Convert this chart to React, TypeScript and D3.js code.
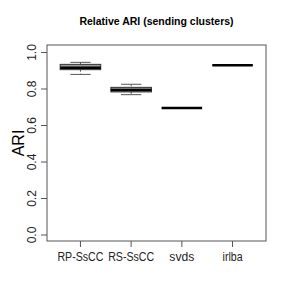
import React from "react";
import * as d3 from "d3";

const categories = ["RP-SsCC", "RS-SsCC", "svds", "irlba"];
const whiskerLow = [0.88, 0.769, 0.696, 0.93];
const q1 = [0.906, 0.784, 0.696, 0.93];
const medians = [0.917, 0.795, 0.696, 0.93];
const q3 = [0.935, 0.809, 0.696, 0.93];
const whiskerHigh = [0.946, 0.826, 0.696, 0.93];
const yTicks = [0, 0.2, 0.4, 0.6, 0.8, 1.0];
const labelWidths = [46, 46, 25, 20];

const W = 289, H = 300;
const L = 47, R = 266, T = 45, B = 241;

export default function App() {
  const x = d3.scaleLinear().domain([0.34, 4.66]).range([L, R]);
  const y = d3.scaleLinear().domain([0, 1]).range([235, 52.5]);
  const bw = 0.4;
  const font = "Liberation Sans, Arial, sans-serif";
  return (
    <svg width={W} height={H} style={{ position: "absolute", left: 0, top: 0 }}>
      <rect width={W} height={H} fill="white" />
      <text x={(L + R) / 2} y={25} textAnchor="middle" fontFamily={font} fontWeight="bold" fontSize={10.5}>
        Relative ARI (sending clusters)
      </text>
      <rect x={L} y={T} width={R - L} height={B - T} fill="none" stroke="#555" strokeWidth={1} />
      {yTicks.map((t) => (
        <g key={t}>
          <line x1={L} x2={L - 6} y1={y(t)} y2={y(t)} stroke="#555" />
          <text
            transform={`translate(${L - 11},${y(t)}) rotate(-90)`}
            textAnchor="middle"
            fontFamily={font}
            fontSize={12}
            fill="#222"
          >
            {t.toFixed(1)}
          </text>
        </g>
      ))}
      <text transform={`translate(24,${(T + B) / 2}) rotate(-90)`} textAnchor="middle" fontFamily={font} fontSize={16}>
        ARI
      </text>
      {categories.map((c, i) => {
        const cx = x(i + 1);
        const x0 = x(i + 1 - bw), x1 = x(i + 1 + bw);
        const sw0 = x(i + 1 - bw / 2), sw1 = x(i + 1 + bw / 2);
        const degenerate = q1[i] === q3[i];
        return (
          <g key={c}>
            <line x1={cx} x2={cx} y1={B} y2={B + 6} stroke="#555" />
            <text
              x={cx}
              y={B + 20}
              textAnchor="middle"
              fontFamily={font}
              fontSize={12}
              fill="#222"
              textLength={labelWidths[i]}
              lengthAdjust="spacingAndGlyphs"
            >
              {c}
            </text>
            {!degenerate && (
              <>
                <line x1={cx} x2={cx} y1={y(whiskerHigh[i])} y2={y(q3[i])} stroke="#555" strokeDasharray="2,2" />
                <line x1={cx} x2={cx} y1={y(q1[i])} y2={y(whiskerLow[i])} stroke="#555" strokeDasharray="2,2" />
                <line x1={sw0} x2={sw1} y1={y(whiskerHigh[i])} y2={y(whiskerHigh[i])} stroke="#555" />
                <line x1={sw0} x2={sw1} y1={y(whiskerLow[i])} y2={y(whiskerLow[i])} stroke="#555" />
                <rect x={x0} y={y(q3[i])} width={x1 - x0} height={y(q1[i]) - y(q3[i])} fill="#9a9a9a" stroke="#333" strokeWidth={1} />
              </>
            )}
            <line x1={x0} x2={x1} y1={y(medians[i])} y2={y(medians[i])} stroke="#000" strokeWidth={2.5} />
          </g>
        );
      })}
    </svg>
  );
}
